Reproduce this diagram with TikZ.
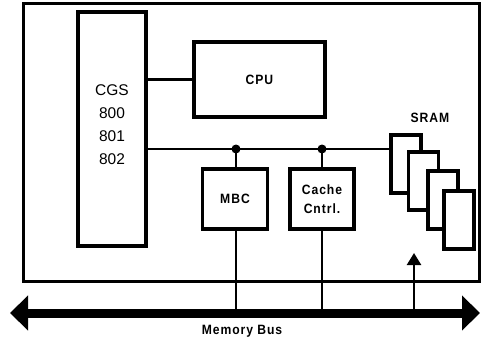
\documentclass[tikz,border=0pt]{standalone}
\usepackage{fontspec}
\setmainfont{Liberation Sans}
\newfontfamily\plotfont[FakeStretch=0.9,LetterSpace=7]{Liberation Sans Bold}
\usetikzlibrary{arrows.meta}
\begin{document}
\begin{tikzpicture}[x=1pt,y=-1pt,
    chip/.style={draw,line width=3.2pt,fill=white,inner sep=0pt},
    wire/.style={line width=2.4pt},
    lbl/.style={font=\plotfont\fontsize{13.5}{19}\selectfont,align=center}]
  \useasboundingbox (0,0) rectangle (481,342);
  \draw[line width=3pt] (23,3.5) rectangle (479,281.5);
  \node[chip,minimum width=68pt,minimum height=234pt] (cgs) at (112,129) {};
  \node[font=\fontsize{15.5}{23}\selectfont,align=center] (cgstxt)
    at ([yshift=4.5pt]cgs.center) {CGS\\800\\801\\802};
  \node[chip,lbl,minimum width=131pt,minimum height=75pt] (cpu) at (259.5,79.5) {CPU};
  \node[chip,lbl,minimum width=65pt,minimum height=60pt] (mbc) at (235,199) {MBC};
  \node[chip,lbl,minimum width=64pt,minimum height=60pt] (cache) at (322,199) {Cache\\Cntrl.};
  \foreach \i/\x/\y in {1/406/164,2/423.5/181,3/443/200,4/459/220}
    \node[chip,minimum width=30pt,minimum height=58pt] (sram\i) at (\x,\y) {};
  \node[lbl] (sramlbl) at (430,118) {SRAM};
  \coordinate (j1) at (236,149);
  \coordinate (j2) at (322,149);
  \coordinate (busl) at (10,313);
  \coordinate (busr) at (480,313);
  \coordinate (sramin) at (414,253);
  \begin{scope}[wire]
    \draw (cgs.east |- cpu.west) to (cpu.west);
    \draw (cgs.east |- j1) to (sram1.west |- j1);
    \draw (j1) to (j1 |- mbc.north);
    \draw (j2) to (j2 |- cache.north);
    \draw (j1 |- mbc.south) to (j1 |- busl);
    \draw (j2 |- cache.south) to (j2 |- busl);
    \draw[-{Triangle[length=12pt,width=14pt]}] (sramin |- busl) to (sramin);
  \end{scope}
  \fill (j1) circle (4.5pt);
  \fill (j2) circle (4.5pt);
  \draw[line width=9pt,{Triangle[length=18pt,width=34pt]}-{Triangle[length=18pt,width=34pt]}]
    (busl) to (busr);
  \node[lbl] (buslbl) at (242,331) {Memory Bus};
\end{tikzpicture}
\end{document}
